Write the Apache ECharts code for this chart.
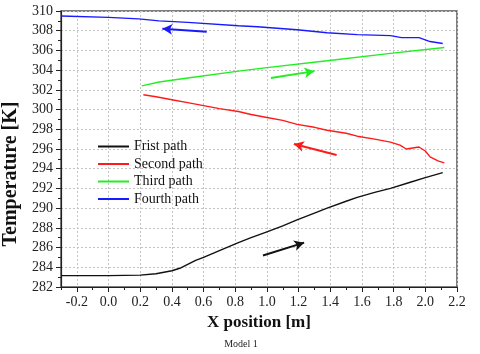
<!DOCTYPE html>
<html>
<head>
<meta charset="utf-8">
<script src="https://cdn.jsdelivr.net/npm/echarts@6/dist/echarts.min.js"></script>
<style>
  html, body { margin: 0; padding: 0; background: #fff; }
  #lineChart { width: 480px; height: 354px; }
</style>
</head>
<body>
<div id="lineChart"></div>
<script>
  // values
  var seriesNames = ['Frist path', 'Second path', 'Third path', 'Fourth path'];
  var seriesColors = ['#111111', '#ff1a1a', '#22ee22', '#1a1aff'];

  var firstX = [-0.3, 0.0, 0.2, 0.3, 0.4, 0.45, 0.5, 0.55, 0.6, 0.7, 0.82, 0.9, 1.0, 1.1, 1.19, 1.3, 1.38, 1.5, 1.57, 1.68, 1.78, 1.9, 2.0, 2.11];
  var firstT = [283.15, 283.15, 283.2, 283.35, 283.65, 283.9, 284.3, 284.7, 285.0, 285.7, 286.5, 287.0, 287.6, 288.2, 288.8, 289.5, 290.0, 290.7, 291.1, 291.6, 292.0, 292.6, 293.1, 293.6];

  var secondX = [0.22, 0.3, 0.4, 0.5, 0.6, 0.7, 0.82, 0.9, 1.0, 1.1, 1.19, 1.3, 1.38, 1.5, 1.57, 1.68, 1.78, 1.84, 1.88, 1.92, 1.96, 2.0, 2.03, 2.08, 2.12];
  var secondT = [301.5, 301.3, 301.0, 300.7, 300.4, 300.1, 299.8, 299.5, 299.2, 298.9, 298.5, 298.2, 297.9, 297.6, 297.3, 297.0, 296.7, 296.4, 296.0, 296.1, 296.2, 295.8, 295.2, 294.8, 294.6];

  var thirdX = [0.21, 0.32, 0.5, 0.82, 1.0, 1.38, 1.78, 2.12];
  var thirdT = [302.4, 302.8, 303.2, 303.9, 304.25, 304.95, 305.7, 306.3];

  var fourthX = [-0.3, 0.0, 0.19, 0.32, 0.5, 0.82, 0.94, 1.19, 1.38, 1.57, 1.78, 1.85, 1.96, 2.03, 2.11];
  var fourthT = [309.5, 309.35, 309.2, 309.0, 308.85, 308.5, 308.4, 308.1, 307.8, 307.6, 307.5, 307.3, 307.3, 306.9, 306.7];

  // direction arrows [x1, T1, x2, T2] (tail -> head)
  var arrows = [
    [0.975, 285.2, 1.235, 286.5],
    [1.44, 295.4, 1.17, 296.5],
    [1.025, 303.2, 1.30, 303.9],
    [0.62, 307.9, 0.34, 308.2]
  ];

  var xTicks = [-0.2, 0.0, 0.2, 0.4, 0.6, 0.8, 1.0, 1.2, 1.4, 1.6, 1.8, 2.0, 2.2];
  var xMinorTicks = [-0.3, -0.1, 0.1, 0.3, 0.5, 0.7, 0.9, 1.1, 1.3, 1.5, 1.7, 1.9, 2.1];

  var xs = [firstX, secondX, thirdX, fourthX];
  var ts = [firstT, secondT, thirdT, fourthT];

  var font = 'Liberation Serif';
  var myChart = echarts.init(document.getElementById('lineChart'));

  var series = seriesNames.map(function (name, i) {
    var a = arrows[i];
    return {
      name: name,
      type: 'line',
      xAxisIndex: 0,
      symbol: 'none',
      smooth: false,
      lineStyle: { width: 1.4, color: seriesColors[i] },
      itemStyle: { color: seriesColors[i] },
      data: xs[i].map(function (x, j) { return [x, ts[i][j]]; }),
      markLine: {
        silent: true,
        symbol: ['none', 'arrow'],
        symbolSize: [8, 10],
        label: { show: false },
        lineStyle: { type: 'solid', width: 2, color: seriesColors[i] },
        data: [[{ coord: [a[0], a[1]] }, { coord: [a[2], a[3]] }]]
      }
    };
  });

  var option = {
    backgroundColor: '#fff',
    animation: false,
    title: {
      text: 'Model 1',
      left: 236,
      textAlign: 'center',
      top: 334,
      textStyle: { fontFamily: font, fontSize: 10, fontWeight: 'normal', color: '#222' }
    },
    grid: {
      left: 61,
      top: 11,
      right: 23,
      bottom: 67,
      outerBoundsMode: 'none',
      show: true,
      borderColor: '#555',
      borderWidth: 1.5
    },
    legend: {
      orient: 'vertical',
      left: 93,
      top: 134,
      itemWidth: 31,
      itemHeight: 2,
      itemGap: 2.5,
      icon: 'rect',
      data: seriesNames,
      textStyle: { fontFamily: font, fontSize: 14, color: '#111', lineHeight: 15 }
    },
    xAxis: [{
      type: 'value',
      min: -0.3,
      max: 2.2,
      name: 'X position [m]',
      nameLocation: 'middle',
      nameGap: 26,
      nameTextStyle: { fontFamily: font, fontSize: 17, fontWeight: 'bold', color: '#111' },
      axisLine: { onZero: false, lineStyle: { color: '#222', width: 1.2 } },
      axisTick: { customValues: xTicks, length: 5, lineStyle: { color: '#222' } },
      axisLabel: {
        customValues: xTicks,
        margin: 8,
        fontFamily: font, fontSize: 14, color: '#222',
        formatter: function (v) { return v.toFixed(1); }
      },
      splitLine: { show: true, lineStyle: { color: '#c4c4c4', type: [2, 2], width: 1 } }
    }, {
      type: 'value',
      position: 'bottom',
      min: -0.3,
      max: 2.2,
      axisLine: { show: false, onZero: false },
      axisTick: { customValues: xMinorTicks, length: 3, lineStyle: { color: '#222' } },
      axisLabel: { show: false },
      splitLine: { show: false }
    }],
    yAxis: {
      type: 'value',
      min: 282,
      max: 310,
      interval: 2,
      name: 'Temperature [K]',
      nameLocation: 'middle',
      nameGap: 26,
      nameTextStyle: { fontFamily: font, fontSize: 20, fontWeight: 'bold', color: '#111', padding: [0, 50, 0, 0] },
      axisLine: { onZero: false, lineStyle: { color: '#222', width: 1.2 } },
      axisTick: { length: 5, lineStyle: { color: '#222' } },
      minorTick: { show: true, splitNumber: 2, length: 3, lineStyle: { color: '#222' } },
      axisLabel: { margin: 8, fontFamily: font, fontSize: 14, color: '#222' },
      splitLine: { show: true, lineStyle: { color: '#c4c4c4', type: [2, 2], width: 1 } }
    },
    series: series
  };

  myChart.setOption(option);
</script>
</body>
</html>
